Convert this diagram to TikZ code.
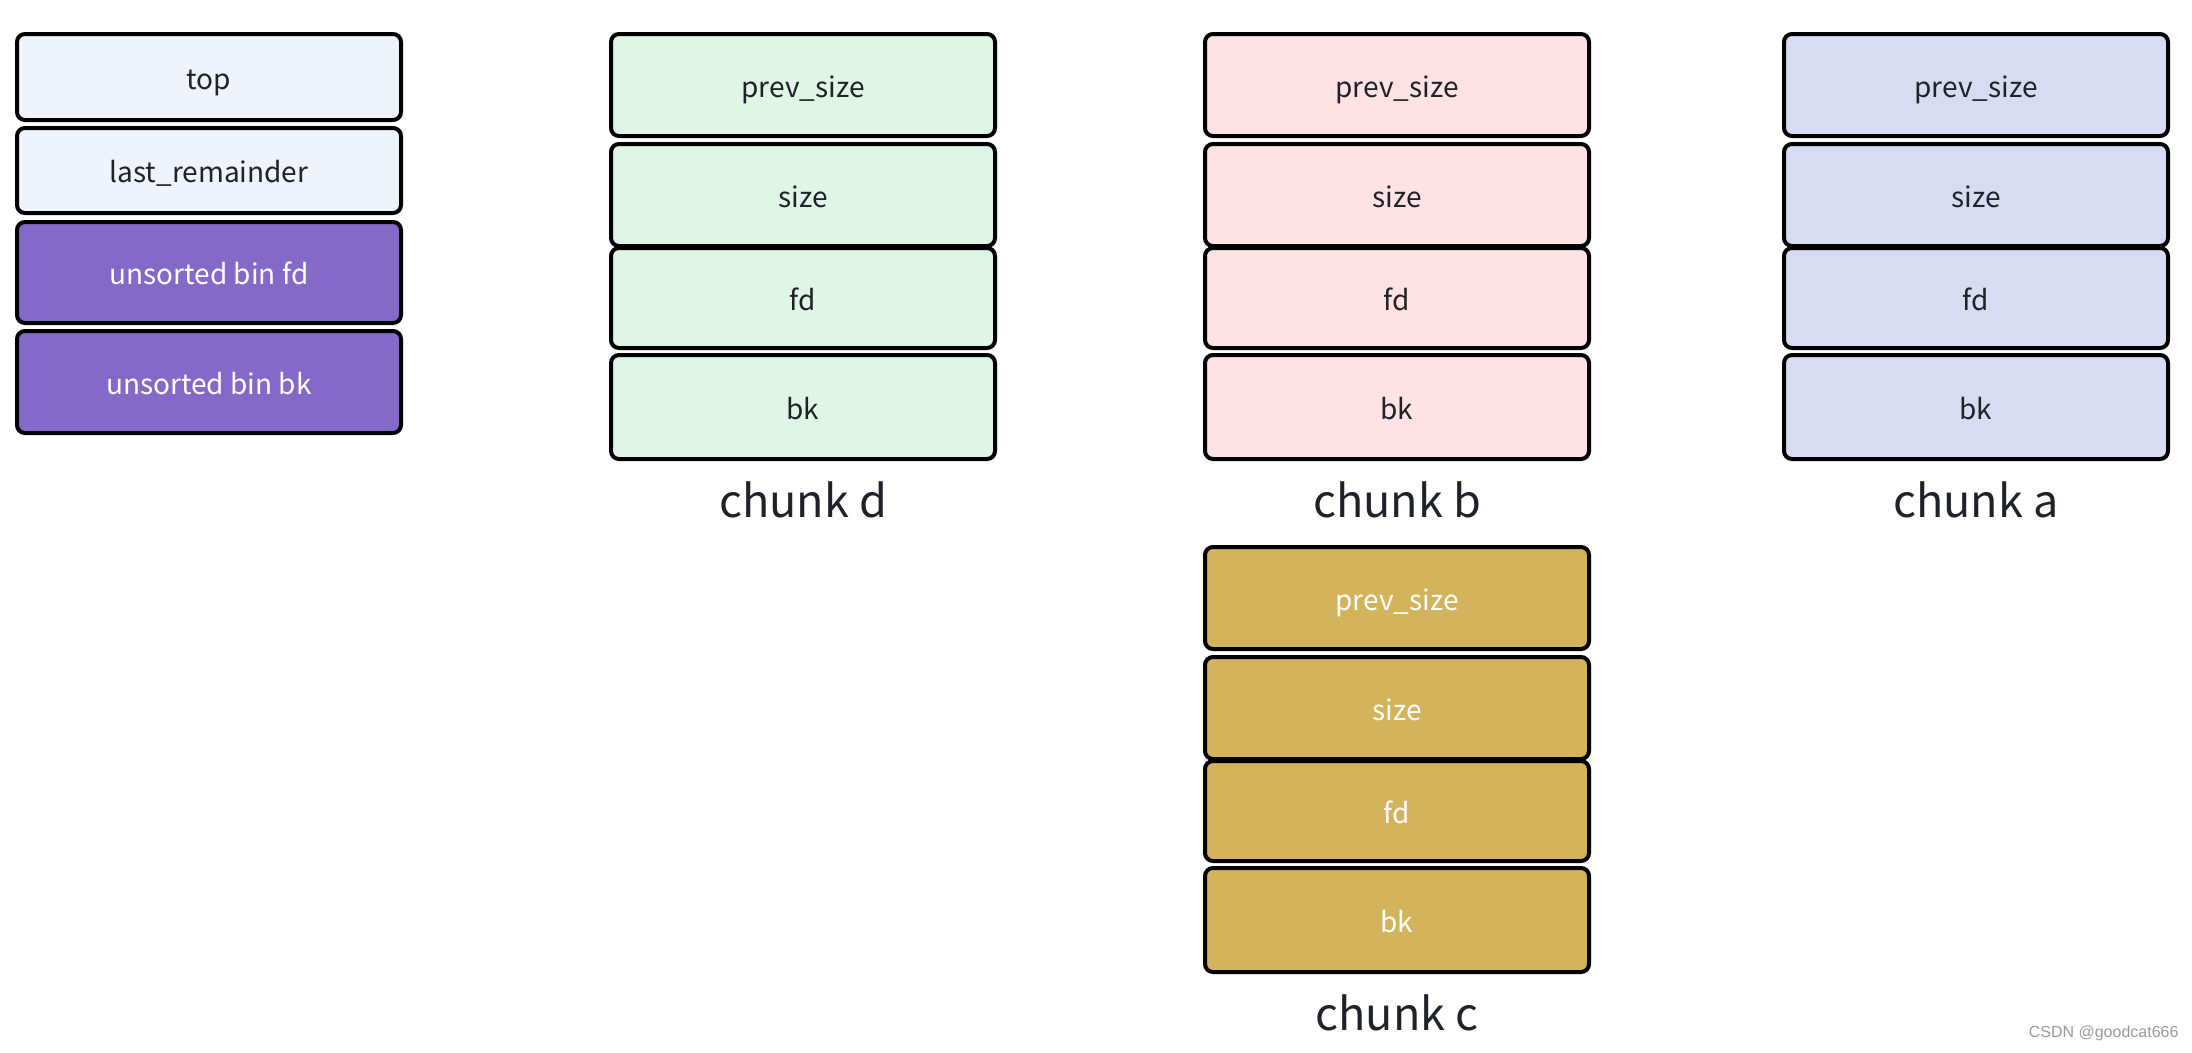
\documentclass[tikz,border=0pt]{standalone}
\usepackage{fontspec}
\setmainfont{Noto Sans CJK SC}
\newfontfamily\markfont{Liberation Sans}
\usepackage{tikz}
\usetikzlibrary{positioning}

\definecolor{binlight}{HTML}{EFF3FC}
\definecolor{binpurple}{HTML}{8569C8}
\definecolor{chunkgreen}{HTML}{DFF5E6}
\definecolor{chunkpink}{HTML}{FFE2E3}
\definecolor{chunkblue}{HTML}{D8DCF3}
\definecolor{chunkgold}{HTML}{D3B35B}
\definecolor{inkdark}{HTML}{1F2329}
\definecolor{markgray}{HTML}{9A9A9A}

\begin{document}
\begin{tikzpicture}[x=1pt, y=-1pt, font=\fontsize{28}{34}\selectfont]
	\def\cellw{384pt}
		\tikzset	{
		cell/.style={draw=black, line width=4pt, rounded corners=8pt, minimum width=\cellw, inner sep=0pt, text height=24pt, text depth=0pt, text=inkdark},
		lbl/.style={font=\fontsize{45}{54}\selectfont, text=inkdark, inner sep=0pt},
		pics/chunk/.style n args={3}{
			code={
				\node[cell, fill=#1, text=#2, minimum height=102pt]	(-prev) at (194,53) {prev\_size};
				\node[cell, fill=#1, text=#2, minimum height=102pt]	(-size) at (194,163) {size};
				\node[cell, fill=#1, text=#2, minimum height=100pt]	(-fd) at (194,266) {fd};
				\node[cell, fill=#1, text=#2, minimum height=104pt]	(-bk) at (194,375) {bk};
				\node[lbl, anchor=base]	(-name) at (194,485) {#3};
			}
		},
	}

	\useasboundingbox (0,0) rectangle (2192,1052);

	\node[cell, fill=binlight, minimum height=86pt]	(top) at (209,77) {top};
	\node[cell, fill=binlight, minimum height=85pt]	(lastrem) at (209,170.5) {last\_remainder};
	\node[cell, fill=binpurple, text=white, minimum height=101pt]	(binfd) at (209,272.5) {unsorted bin fd};
	\node[cell, fill=binpurple, text=white, minimum height=102pt]	(binbk) at (209,382) {unsorted bin bk};

	\pic (d) at (609,32) {chunk={chunkgreen}{inkdark}{chunk d}};
	\pic (b) at (1203,32) {chunk={chunkpink}{inkdark}{chunk b}};
	\pic (a) at (1782,32) {chunk={chunkblue}{inkdark}{chunk a}};
	\pic (c) at (1203,545) {chunk={chunkgold}{white}{chunk c}};

	\node[font=\markfont\fontsize{16}{18}\selectfont, text=markgray, anchor=east]	(mark) at (2182,1033) {CSDN @goodcat666};
\end{tikzpicture}
\end{document}
